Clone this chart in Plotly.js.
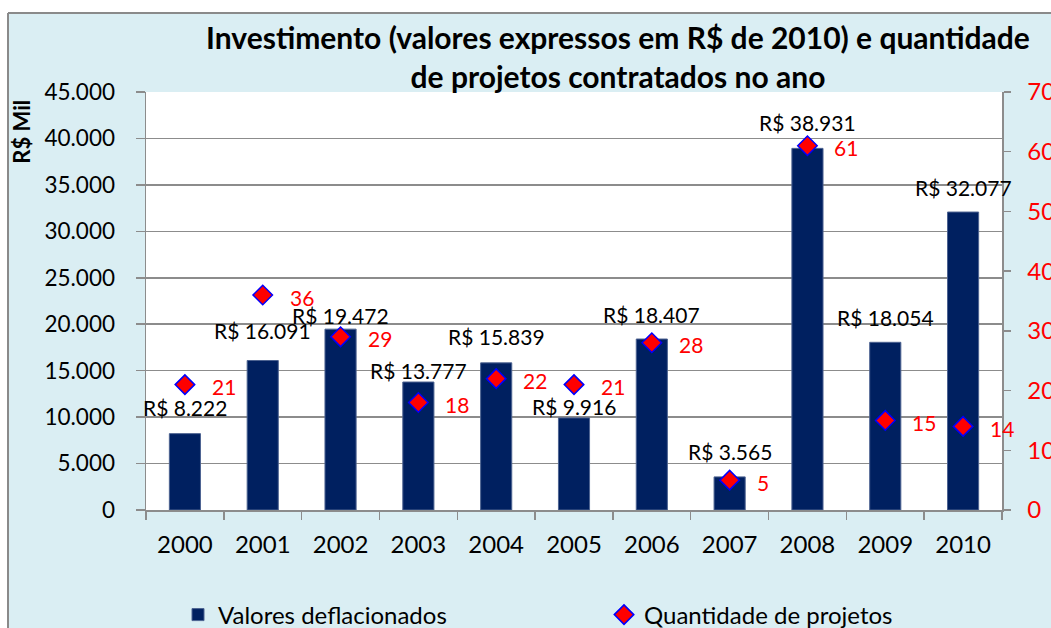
<!DOCTYPE html>
<html>
<head>
<meta charset="utf-8">
<script src="https://cdn.plot.ly/plotly-3.0.1.min.js"></script>
<style>html,body{margin:0;padding:0;background:#fff;}#chart{width:1051px;height:628px;}</style>
</head>
<body>
<div id="chart"></div>
<script>
// ---- data ----
const years = ['2000','2001','2002','2003','2004','2005','2006','2007','2008','2009','2010'];
const valores = [8222, 16091, 19472, 13777, 15839, 9916, 18407, 3565, 38931, 18054, 32077];
const projetos = [21, 36, 29, 18, 22, 21, 28, 5, 61, 15, 14];
const valorLabels = ['R$ 8.222','R$ 16.091','R$ 19.472','R$ 13.777','R$ 15.839','R$ 9.916','R$ 18.407','R$ 3.565','R$ 38.931','R$ 18.054','R$ 32.077'];
const seriesNames = ['Valores deflacionados', 'Quantidade de projetos'];
const titleText = 'Investimento (valores expressos em R$ de 2010) e quantidade<br>de projetos contratados no ano';
const yTitle = 'R$ Mil';

// ---- style (label lift in px above bar top) ----
const labelLift = [26, 30, 14, 12, 26, 11, 25, 25, 26, 25, 25];
const FONT = 'Lato, "Open Sans", sans-serif';
const BG = '#DAEEF3';
const GRID = '#8c8c8c';

const traces = [
  {
    type: 'bar', x: years, y: valores, name: seriesNames[0],
    width: 0.4, legend: 'legend',
    marker: {color: '#002060', line: {color: '#4d6391', width: 1}},
    hoverinfo: 'x+y'
  },
  {
    type: 'scatter', mode: 'markers', x: years, y: projetos, name: seriesNames[1],
    yaxis: 'y2', legend: 'legend2',
    marker: {symbol: 'diamond', size: 15, color: '#FF0000', line: {color: '#0000FF', width: 1.5}}
  }
];

const annotations = [];
years.forEach((yr, i) => {
  annotations.push({
    x: i, y: valores[i], xref: 'x', yref: 'y',
    text: valorLabels[i], showarrow: false,
    xanchor: 'center', yanchor: 'middle', yshift: labelLift[i],
    font: {family: FONT, size: 21, color: '#000'}
  });
  annotations.push({
    x: i, y: projetos[i], xref: 'x', yref: 'y2',
    text: String(projetos[i]), showarrow: false,
    xanchor: 'left', yanchor: 'middle', xshift: 25, yshift: -2,
    font: {family: FONT, size: 21, color: '#FF0000'}
  });
});
annotations.push({
  text: '<b>' + yTitle + '</b>', xref: 'paper', yref: 'paper',
  x: -0.1449, y: 0.905, textangle: -90, showarrow: false,
  xanchor: 'center', yanchor: 'middle',
  font: {family: FONT, size: 22, color: '#000'}
});

// pixel helpers for paper coords (plot area 146..1002 x, 92..510 y)
const px = v => (v - 146) / 856;
const py = v => (510 - v) / 418;

const legendBase = {
  orientation: 'h', xanchor: 'left', y: py(615), yanchor: 'middle',
  bgcolor: 'rgba(0,0,0,0)', borderwidth: 0,
  font: {family: FONT, size: 24, color: '#000'}, itemwidth: 30
};

const layout = {
  width: 1051, height: 628,
  margin: {l: 146, r: 49, t: 92, b: 118, autoexpand: false},
  paper_bgcolor: BG, plot_bgcolor: '#FFFFFF',
  separators: ',.',
  font: {family: FONT, size: 20, color: '#000'},
  title: {
    text: '<b>' + titleText + '</b>',
    font: {family: FONT, size: 30, color: '#000'},
    x: 0.588, xanchor: 'center', xref: 'container',
    y: 0.922, yanchor: 'top', yref: 'container'
  },
  showlegend: true,
  legend: Object.assign({}, legendBase, {x: px(178)}),
  legend2: Object.assign({}, legendBase, {x: px(604)}),
  xaxis: {
    type: 'category', range: [-0.5, 10.5], showgrid: false,
    showline: true, linecolor: GRID, linewidth: 1.5,
    ticks: 'outside', ticklen: 8, tickcolor: GRID, tickwidth: 1.5,
    tickson: 'boundaries', ticklabelstandoff: 13, tickangle: 0,
    tickfont: {family: FONT, size: 24, color: '#000'},
    fixedrange: true
  },
  yaxis: {
    range: [0, 45000], dtick: 5000, tickformat: ',d',
    showgrid: true, gridcolor: GRID, gridwidth: 1.5, zeroline: false,
    showline: true, linecolor: GRID, linewidth: 1.5,
    ticks: 'outside', ticklen: 9, tickcolor: GRID, tickwidth: 1.5,
    ticklabelstandoff: 16,
    tickfont: {family: FONT, size: 22.5, color: '#000'},
    fixedrange: true
  },
  yaxis2: {
    range: [0, 70], dtick: 10, overlaying: 'y', side: 'right',
    showgrid: false, zeroline: false,
    showline: true, linecolor: GRID, linewidth: 1.5,
    ticks: 'outside', ticklen: 7, tickcolor: GRID, tickwidth: 1.5,
    ticklabelstandoff: 12,
    tickfont: {family: FONT, size: 24, color: '#FF0000'},
    fixedrange: true
  },
  annotations: annotations,
  shapes: [
    {type: 'rect', xref: 'paper', yref: 'paper', x0: px(-5), x1: px(1060), y0: py(13), y1: py(-5),
     fillcolor: '#FFFFFF', line: {width: 0}, layer: 'above'},
    {type: 'rect', xref: 'paper', yref: 'paper', x0: px(-5), x1: px(8), y0: py(640), y1: py(13),
     fillcolor: '#FFFFFF', line: {width: 0}, layer: 'above'},
    {type: 'line', xref: 'paper', yref: 'paper', x0: px(8), x1: px(1060), y0: py(13), y1: py(13),
     line: {color: '#8a8a8a', width: 2}, layer: 'above'},
    {type: 'line', xref: 'paper', yref: 'paper', x0: px(8), x1: px(8), y0: py(13), y1: py(640),
     line: {color: '#8a8a8a', width: 2}, layer: 'above'}
  ]
};

Plotly.newPlot('chart', traces, layout, {displayModeBar: false, staticPlot: true});
</script>
</body>
</html>
